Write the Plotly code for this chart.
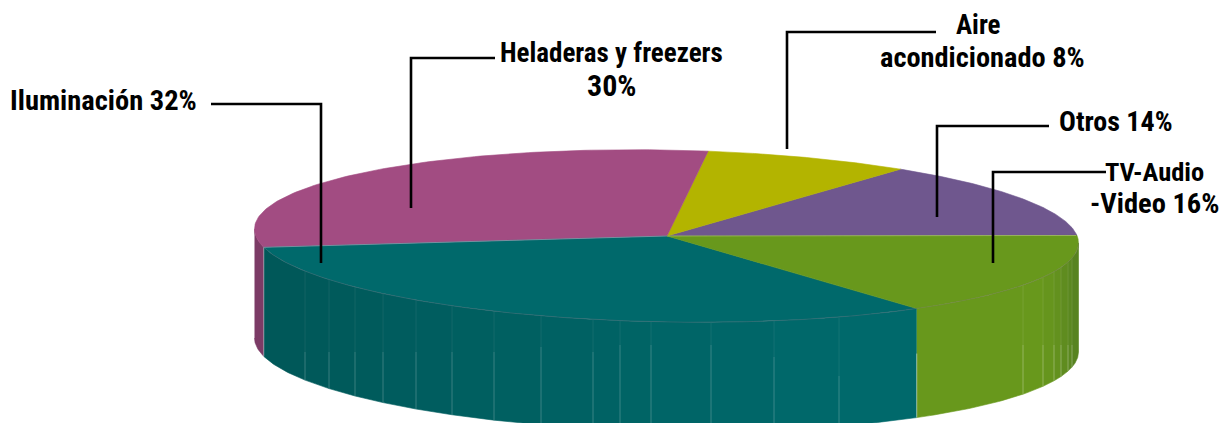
import numpy as np
import plotly.graph_objects as go

# Data, anticlockwise from the right-hand side of the pie
categories = ["Otros", "Aire acondicionado", "Heladeras y freezers", "Iluminación", "TV-Audio-Video"]
shares = [14, 8, 30, 32, 16]
top_colors = ["#6F578E", "#B3B400", "#A24C82", "#00696B", "#68981C"]

# Text labels, one line each
label_lines = ["Iluminación 32%", "Heladeras y freezers", "30%", "Aire", "acondicionado 8%",
               "Otros 14%", "TV-Audio", "-Video 16%"]
label_x = [103, 611, 611, 978, 982, 1116, 1154, 1154]
label_y = [100, 53, 85, 25, 57, 121, 171, 203]
label_size = [28.5, 27, 30, 27, 28.4, 28, 26.5, 28.5]

# Leader lines
leader_x = [[211, 321, 321], [495, 411, 411], [936, 787, 787], [1049, 937, 937], [1106, 993, 993]]
leader_y = [[104, 104, 263], [58, 58, 208], [32, 32, 149], [126, 126, 217], [172, 172, 263]]

# Facet edges seen along the wall (horizontal picture position)
teal_facets = [263, 305, 329, 355, 383, 416, 452, 494, 541, 593, 620, 651, 711, 774, 839, 917]
green_facets = [917, 1023, 1043, 1054, 1061, 1068, 1072, 1077]

# Projection of the disc
CX, CY, RX, RY, SHEAR, WALL, START = 666.5, 236, 412, 86, 0.017, 109, 5.0


def px(t):
    return CX + RX * np.cos(np.radians(t))


def py(t):
    t = np.asarray(t, dtype=float)
    return CY + SHEAR * RX * np.cos(np.radians(t)) - RY * np.sin(np.radians(t))


def angle_from_x(x):
    # lower half of the ellipse, 180..360 degrees
    return 360 - np.degrees(np.arccos(np.clip((x - CX) / RX, -1, 1)))


def mix(c1, c2, f):
    a = [int(c1[i:i + 2], 16) for i in (1, 3, 5)]
    b = [int(c2[i:i + 2], 16) for i in (1, 3, 5)]
    return "#%02X%02X%02X" % tuple(int(round(p + (q - p) * f)) for p, q in zip(a, b))


edges = START + np.cumsum([0] + [s * 3.6 for s in shares])

fig = go.Figure()


def fill(xs, ys, color):
    fig.add_trace(go.Scatter(x=xs, y=ys, mode="lines", fill="toself", fillcolor=color,
                             line=dict(width=0.6, color=color), hoverinfo="skip", showlegend=False))


def wall(t0, t1, color):
    t = np.linspace(t0, t1, 30)
    xs = np.r_[px(t), px(t[::-1])]
    ys = np.r_[py(t), py(t[::-1]) + WALL]
    fill(xs, ys, color)


def seg(xs, ys, color, width=1.0):
    fig.add_trace(go.Scatter(x=xs, y=ys, mode="lines", line=dict(color=color, width=width),
                             hoverinfo="skip", showlegend=False))


# Side walls
wall(180, edges[3], "#7C3B66")
teal_t = [angle_from_x(x) for x in teal_facets]
teal_t[0] = edges[3]
teal_t[-1] = edges[4]
for i in range(len(teal_t) - 1):
    wall(teal_t[i], teal_t[i + 1], mix("#005859", "#00696B", (i / (len(teal_t) - 2)) ** 1.1))
green_t = [angle_from_x(x) for x in green_facets]
green_t[0] = edges[4]
green_t[-1] = 360
green_shades = ["#68981C", "#68981C", "#66951D", "#63911E", "#5F8C1F", "#5B8820", "#578320"]
for i in range(len(green_t) - 1):
    wall(green_t[i], green_t[i + 1], green_shades[i])

# Facet seams: faint at the top of the wall, brighter below
lit_from = [352, 352, 352, 352, 352, 352, 352, 347, 352, 345, 345, 345, 357, 376, 376]
for x, t, y0 in zip(teal_facets[1:-1], teal_t[1:-1], lit_from):
    y = float(py(t))
    seg([x, x], [y, y0], "rgba(255,255,255,0.07)")
    seg([x, x], [y0, y + WALL], "rgba(255,255,255,0.22)")
for x, t in zip(green_facets[1:-1], green_t[1:-1]):
    y = float(py(t))
    seg([x, x], [y, 345], "rgba(255,255,255,0.10)")
    seg([x, x], [345, y + WALL], "rgba(255,255,255,0.30)")

# Top face of the disc, one slice per share
for i, col in enumerate(top_colors):
    t = np.linspace(edges[i], edges[i + 1], 120)
    fill(np.r_[667, px(t), 667], np.r_[CY, py(t), CY], col)

# Light seams at the slice corners and a soft rim on the front edge
seg([667, px(edges[3])], [CY, float(py(edges[3]))], "rgba(225,190,215,0.55)", 0.8)
seg([667, 1076], [CY, float(py(edges[5]))], "rgba(200,215,140,0.6)", 0.8)
seg([px(edges[3]), px(edges[3])], [float(py(edges[3])), float(py(edges[3])) + WALL], "rgba(255,255,255,0.4)")
seg([px(edges[4]), px(edges[4])], [float(py(edges[4])) + 45, float(py(edges[4])) + WALL], "rgba(255,255,255,0.45)")
rim = np.linspace(edges[3], 360, 300)
seg(px(rim), py(rim), "rgba(125,110,125,0.4)", 0.8)

# Leader lines
for xs, ys in zip(leader_x, leader_y):
    seg(xs, ys, "#000000", 2.6)

# Labels
for text, x, y, size in zip(label_lines, label_x, label_y, label_size):
    fig.add_annotation(x=x, y=y, xref="x", yref="y", text=text, showarrow=False,
                       xanchor="center", yanchor="middle",
                       font=dict(family="Roboto Condensed, Open Sans Condensed, Liberation Sans", size=size,
                                 color="#000000", weight=700))

fig.update_layout(
    width=1221, height=423, margin=dict(l=0, r=0, t=0, b=0),
    paper_bgcolor="#FFFFFF", plot_bgcolor="#FFFFFF", showlegend=False,
    xaxis=dict(range=[0, 1221], visible=False, fixedrange=True),
    yaxis=dict(range=[423, 0], visible=False, fixedrange=True),
)
fig.write_html("out.html", config={"displayModeBar": False},
               post_script="document.body.style.margin='0';document.documentElement.style.overflow='hidden';")
